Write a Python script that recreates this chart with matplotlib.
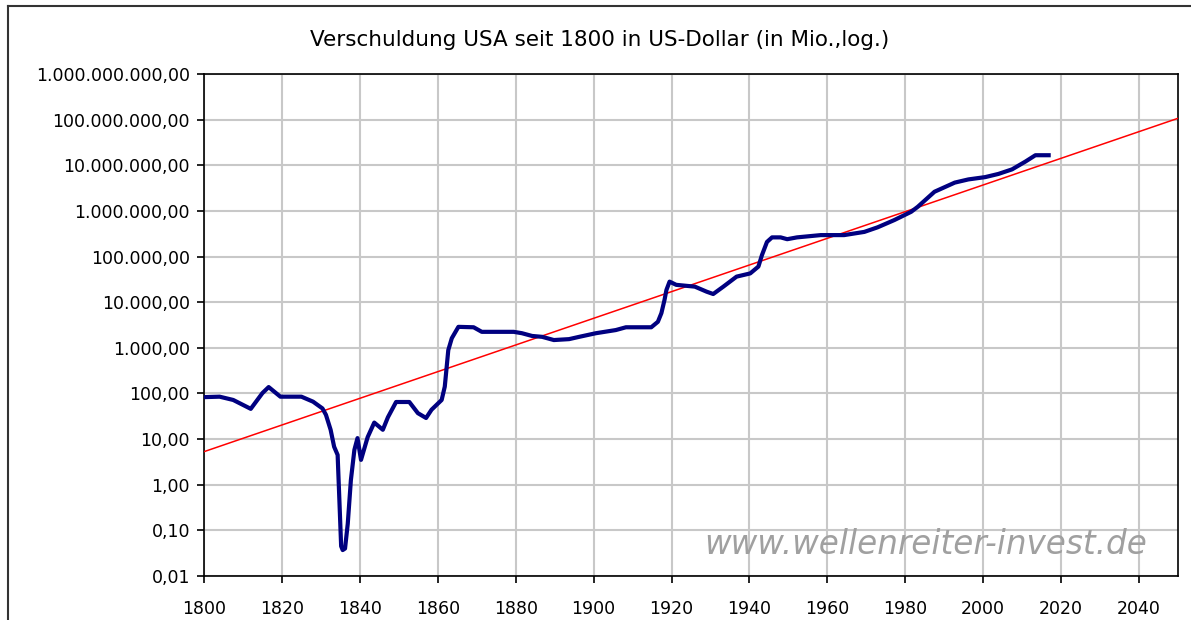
import matplotlib
matplotlib.use("Agg")
from matplotlib import pyplot as plt
from matplotlib.ticker import FuncFormatter, FixedLocator, NullLocator
from matplotlib.lines import Line2D

# Schulden USA in Mio. US-Dollar
jahre = [1800, 1804, 1807.5, 1812, 1815, 1816.6, 1819.6, 1825, 1828, 1830.4,
         1831.3, 1832.5, 1833.4, 1834.3, 1834.7, 1835.2, 1835.6, 1836.2, 1836.9, 1837.7,
         1838.6, 1839.4, 1840.3, 1842, 1843.7, 1845.9, 1847.2, 1849.3, 1852.7, 1854.9,
         1857, 1858.4, 1861, 1861.8, 1862.3, 1862.7, 1863.6, 1865.3, 1869.2, 1871.3,
         1879.5, 1881.6, 1884.2, 1886.8, 1889.8, 1893.7, 1896.3, 1900.6, 1905.7, 1908.3,
         1914.8, 1916.5, 1917.4, 1918.2, 1918.7, 1919.5, 1921.2, 1926, 1929, 1930.7,
         1933.3, 1936.7, 1940.2, 1942.3, 1943.2, 1944.5, 1945.8, 1948, 1949.7, 1952.2,
         1958.3, 1964.3, 1969.5, 1972.9, 1977.2, 1981.5, 1983.2, 1987.5, 1992.7, 1996.2,
         2000.5, 2003.9, 2007.4, 2010.8, 2013.4, 2016.8]
schulden = [83, 85, 72, 46, 102, 138, 85, 85, 66, 47,
            34, 16, 6.8, 4.5, 0.59, 0.045, 0.037, 0.04, 0.14, 1.26,
            5.8, 10.5, 3.5, 11, 23, 16, 30, 65, 65, 37,
            29, 44, 72, 141, 390, 890, 1620, 2880, 2820, 2240,
            2240, 2090, 1820, 1740, 1480, 1550, 1740, 2090, 2450, 2820,
            2820, 3720, 5750, 11200, 18600, 28200, 24000, 21900, 17000, 15100,
            21900, 36300, 42700, 60300, 107000, 209000, 263000, 263000, 240000, 263000,
            295000, 295000, 347000, 437000, 631000, 955000, 1230000, 2630000, 4170000, 4900000,
            5500000, 6460000, 8130000, 12000000, 16600000, 16600000]

# Trendlinie (exponentiell)
trend_jahre = [1800, 2050]
trend_werte = [5.3, 1.07e8]

x_ticks = list(range(1800, 2041, 20))
y_ticks = [0.01, 0.1, 1, 10, 100, 1e3, 1e4, 1e5, 1e6, 1e7, 1e8, 1e9]

plt.rcParams['font.family'] = ['DejaVu Sans']

fig = plt.figure(figsize=(11.91, 6.2), dpi=100)
ax = fig.add_axes([204/1191, 44/620, 974/1191, 502/620])

ax.set_yscale('log')
ax.set_xlim(1800, 2050)
ax.set_ylim(0.01, 1e9)

ax.plot(trend_jahre, trend_werte, color='#ff0000', lw=1.1, zorder=3)
ax.plot(jahre, schulden, color='#000080', lw=3, zorder=4, solid_joinstyle='round')

def de_fmt(v, pos):
    s = "{:,.2f}".format(v)
    return s.replace(',', 'X').replace('.', ',').replace('X', '.')

ax.yaxis.set_major_locator(FixedLocator(y_ticks))
ax.yaxis.set_minor_locator(NullLocator())
ax.yaxis.set_major_formatter(FuncFormatter(de_fmt))
ax.set_xticks(x_ticks)

ax.grid(True, color='#c8c8c8', lw=1.5)
ax.set_axisbelow(True)
for sp in ax.spines.values():
    sp.set_color('black')
    sp.set_linewidth(1.2)
ax.tick_params(direction='out', length=5, width=1.2, labelsize=12.5, colors='black')
ax.tick_params(axis='y', pad=5)
ax.tick_params(axis='x', pad=12)

fig.text(600/1191, 1 - 40/620, "Verschuldung USA seit 1800 in US-Dollar (in Mio.,log.)",
         ha='center', va='center', fontsize=15.5)

ax.text(0.514, 0.062, "www.wellenreiter-invest.de", transform=ax.transAxes,
        fontsize=23.5, style='italic', color='#a0a0a0', ha='left', va='center', zorder=5)

# Rahmen um das Diagramm
fig.add_artist(Line2D([8/1191, 8/1191], [0, 1 - 6/620], transform=fig.transFigure, color='#333333', lw=1.5))
fig.add_artist(Line2D([8/1191, 1], [1 - 6/620, 1 - 6/620], transform=fig.transFigure, color='#333333', lw=1.5))

plt.savefig("out.png", dpi=100)
